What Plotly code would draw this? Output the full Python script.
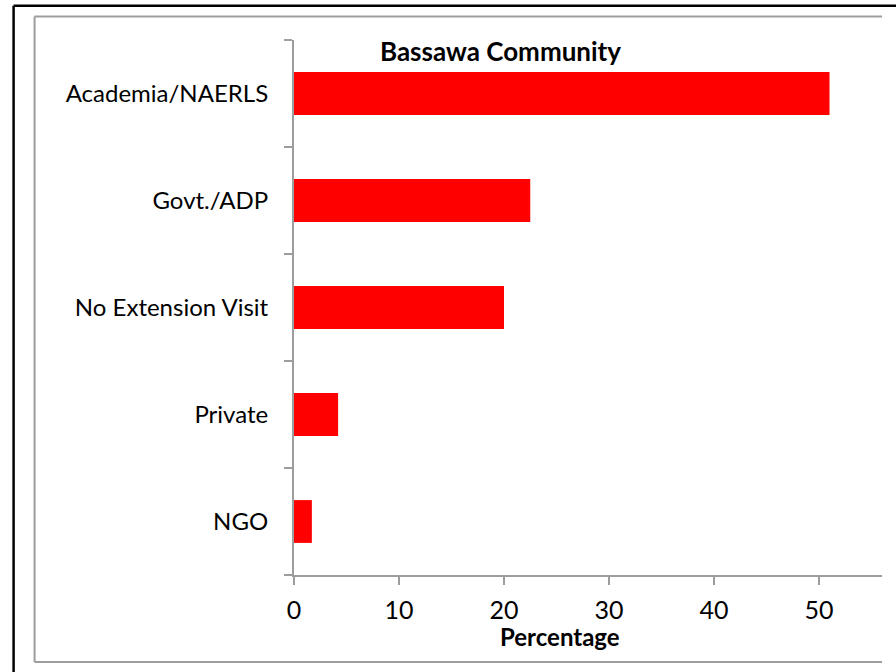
import plotly.graph_objects as go

# Source of extension visits, Bassawa community (percent of respondents)
categories = ["Academia/NAERLS", "Govt./ADP", "No Extension Visit", "Private", "NGO"]
percentages = [51.0, 22.5, 20.0, 4.2, 1.7]
x_ticks = [0, 10, 20, 30, 40, 50]

W, H = 896, 672
L, R, T, B = 293.5, 14.3, 40, 97
PW, PH = W - L - R, H - T - B


def px_x(x):
    return (x - L) / PW


def px_y(y):
    return (H - B - y) / PH


AXIS_GREY = "#9d9d9d"
FONT = "Lato"

fig = go.Figure(
    go.Bar(
        x=percentages,
        y=categories,
        orientation="h",
        marker=dict(color="#ff0000", line=dict(width=0)),
        hoverinfo="x+y",
    )
)

# frame lines around the chart
shapes = [
    dict(type="line", xref="paper", yref="paper", x0=px_x(13), x1=px_x(W + 5),
         y0=px_y(5.7), y1=px_y(5.7), line=dict(color="black", width=2.5)),
    dict(type="line", xref="paper", yref="paper", x0=px_x(13), x1=px_x(13),
         y0=px_y(5.7), y1=px_y(H + 5), line=dict(color="black", width=2.5)),
    dict(type="line", xref="paper", yref="paper", x0=px_x(34), x1=px_x(881.7),
         y0=px_y(16.5), y1=px_y(16.5), line=dict(color=AXIS_GREY, width=2)),
    dict(type="line", xref="paper", yref="paper", x0=px_x(34), x1=px_x(34),
         y0=px_y(16.5), y1=px_y(662), line=dict(color=AXIS_GREY, width=2)),
    dict(type="line", xref="paper", yref="paper", x0=px_x(34), x1=px_x(881.7),
         y0=px_y(662), y1=px_y(662), line=dict(color=AXIS_GREY, width=2)),
]

annotations = [
    dict(text="<b>Bassawa Community</b>", xref="paper", yref="paper",
         x=px_x(500), y=px_y(51), xanchor="center", yanchor="middle",
         showarrow=False, font=dict(family=FONT, size=26, color="black")),
    dict(text="<b>Percentage</b>", xref="paper", yref="paper",
         x=px_x(560), y=px_y(636), xanchor="center", yanchor="middle",
         showarrow=False, font=dict(family=FONT, size=24, color="black")),
]

fig.update_layout(
    width=W,
    height=H,
    margin=dict(l=L, r=R, t=T, b=B, pad=0),
    paper_bgcolor="white",
    plot_bgcolor="white",
    bargap=0.6,
    showlegend=False,
    shapes=shapes,
    annotations=annotations,
    font=dict(family=FONT, size=24, color="black"),
    xaxis=dict(
        range=[0, 56],
        tickvals=x_ticks,
        ticktext=[str(v) for v in x_ticks],
        showgrid=False,
        zeroline=False,
        showline=True,
        linecolor=AXIS_GREY,
        linewidth=2,
        ticks="outside",
        ticklen=8,
        tickwidth=2,
        tickcolor=AXIS_GREY,
        ticklabelstandoff=4,
        tickfont=dict(family=FONT, size=25, color="black"),
    ),
    yaxis=dict(
        categoryorder="array",
        categoryarray=categories[::-1],
        showgrid=False,
        zeroline=False,
        showline=True,
        linecolor=AXIS_GREY,
        linewidth=2,
        ticks="outside",
        tickson="boundaries",
        ticklen=8,
        tickwidth=2,
        tickcolor=AXIS_GREY,
        ticklabelstandoff=19,
        tickfont=dict(family=FONT, size=24, color="black"),
    ),
)

fig.write_html("out.html")
